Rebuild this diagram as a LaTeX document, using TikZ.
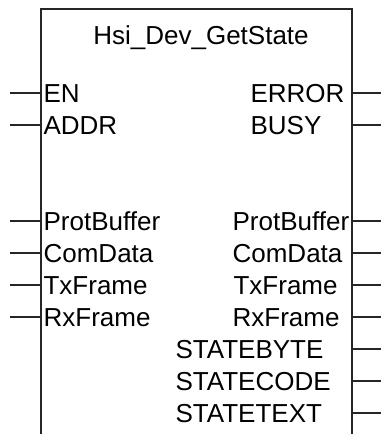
\documentclass[tikz,border=0pt]{standalone}
\usepackage{fontspec}
\setmainfont{Liberation Sans}
\usetikzlibrary{calc}

\begin{document}
\begin{tikzpicture}[x=1pt, y=-1pt, line width=1.2pt,
  every node/.style={font=\fontsize{26}{31}\selectfont, inner sep=0pt}]
\useasboundingbox (0,0) rectangle (381,434);
% block outline, open at the bottom
\coordinate (boxBL) at (41,434);
\coordinate (boxTL) at (41,9);
\coordinate (boxTR) at (352,9);
\coordinate (boxBR) at (352,434);
\draw[black!85] (boxBL) -- (boxTL) -- (boxTR) -- (boxBR);
\node[anchor=base] (title) at (201,44) {Hsi\_Dev\_GetState};
% inputs
\foreach \i/\name/\y in {en/EN/93, addr/ADDR/125, protin/ProtBuffer/221,
  comin/ComData/253, txin/TxFrame/285, rxin/RxFrame/317}{
  \coordinate (in\i) at (10,\y);
  \node[anchor=base west] (lbl\i) at (43,\y+9) {\name};
  \draw[black!85] (in\i) -- (in\i -| boxTL);
}
% outputs
\foreach \i/\name/\y/\x in {error/ERROR/93/250, busy/BUSY/125/250,
  protout/ProtBuffer/221/232, comout/ComData/253/232, txout/TxFrame/285/233,
  rxout/RxFrame/317/232, sbyte/STATEBYTE/349/175, scode/STATECODE/381/175,
  stext/STATETEXT/413/175}{
  \coordinate (out\i) at (381,\y);
  \node[anchor=base west] (lbl\i) at (\x,\y+9) {\name};
  \draw[black!85] (out\i -| boxTR) -- (out\i);
}
\end{tikzpicture}
\end{document}
